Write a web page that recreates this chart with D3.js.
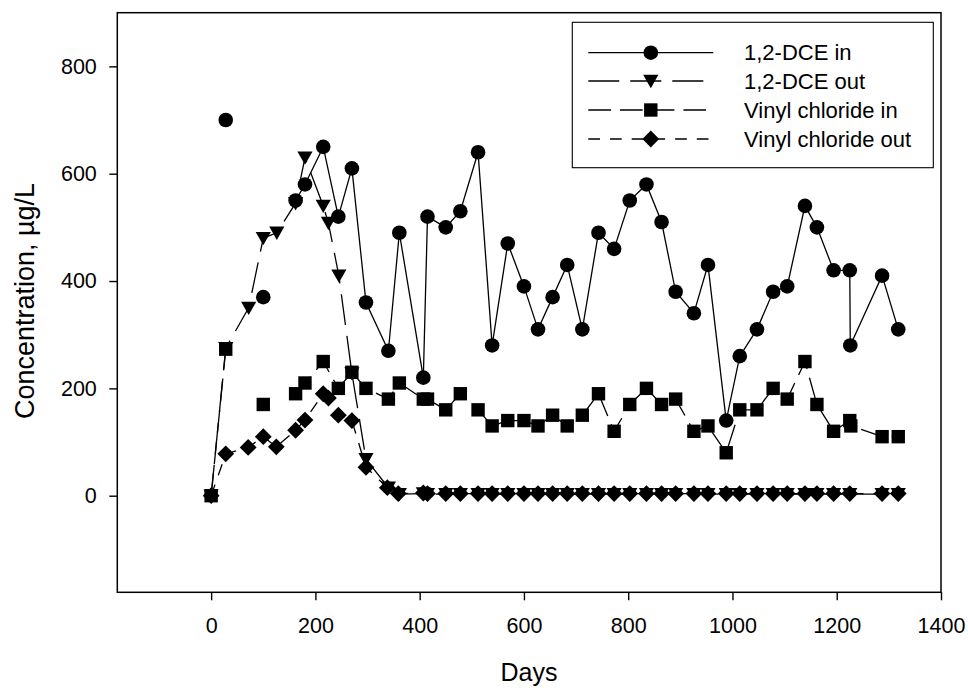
<!DOCTYPE html>
<html>
<head>
<meta charset="utf-8">
<script src="https://cdn.jsdelivr.net/npm/d3@7"></script>
<style>
  html, body { margin: 0; padding: 0; background: #fff; }
  svg { display: block; }
  text { font-family: "Liberation Sans", Arial, sans-serif; fill: #000; }
</style>
</head>
<body>
<svg id="chart" width="968" height="688"></svg>
<script>
// ---- Data ----
const seriesNames = ["1,2-DCE in", "1,2-DCE out", "Vinyl chloride in", "Vinyl chloride out"];

const dceInDays   = [28, 71, 100, 126, 162, 180, 215, 244, 270, 297, 340, 361, 407, 415, 450, 478, 512, 539, 569, 600, 627, 655, 683, 712, 743, 773, 803, 835, 864, 891, 926, 953, 988, 1014, 1047, 1078, 1105, 1139, 1162, 1194, 1225, 1226, 1287, 1318];
const dceInVals   = [700, null, 370, null, 550, 580, 650, 520, 610, 360, 270, 490, 220, 520, 500, 530, 640, 280, 470, 390, 310, 370, 430, 310, 490, 460, 550, 580, 510, 380, 340, 430, 140, 260, 310, 380, 390, 540, 500, 420, 420, 280, 410, 310];

const dceOutDays  = [0, 28, 72, 100, 126, 162, 180, 215, 225, 245, 270, 297, 340, 361, 407, 415, 450, 478, 512, 539, 569, 600, 627, 655, 683, 712, 743, 773, 803, 835, 864, 891, 926, 953, 988, 1014, 1047, 1078, 1105, 1139, 1162, 1194, 1225, 1287, 1318];
const dceOutVals  = [0, 275, 350, 480, 490, 545, 630, 540, 508, 410, 228, 68, 15, 3, 4, 3, 3, 3, 3, 3, 3, 3, 3, 3, 3, 3, 3, 3, 3, 3, 3, 3, 3, 3, 3, 3, 3, 3, 3, 3, 3, 3, 3, 3, 3];

const vcInDays    = [0, 28, 71, 100, 126, 162, 180, 215, 244, 270, 297, 340, 361, 407, 415, 450, 478, 512, 539, 569, 600, 627, 655, 683, 712, 743, 773, 803, 835, 864, 891, 926, 953, 988, 1014, 1047, 1078, 1105, 1139, 1162, 1194, 1225, 1227, 1287, 1318];
const vcInVals    = [0, 273, null, 170, null, 190, 210, 250, 200, 230, 200, 180, 210, 180, 180, 160, 190, 160, 130, 140, 140, 130, 150, 130, 150, 190, 120, 170, 200, 170, 180, 120, 130, 80, 160, 160, 200, 180, 250, 170, 120, 140, 130, 110, 110];

const vcOutDays   = [0, 28, 71, 100, 125, 162, 180, 215, 225, 244, 270, 297, 338, 359, 407, 415, 450, 478, 512, 539, 569, 600, 627, 655, 683, 712, 743, 773, 803, 835, 864, 891, 926, 953, 988, 1014, 1047, 1078, 1105, 1139, 1162, 1194, 1225, 1287, 1318];
const vcOutVals   = [0, 78, 90, 110, 91, 122, 141, 190, 182, 150, 140, 53, 15, 4, 5, 4, 4, 4, 4, 4, 4, 4, 4, 4, 4, 4, 4, 4, 4, 4, 4, 4, 4, 4, 4, 4, 4, 4, 4, 4, 4, 4, 4, 4, 4];

const xTicks = [0, 200, 400, 600, 800, 1000, 1200, 1400];
const yTicks = [0, 200, 400, 600, 800];
const xTitle = "Days";
const yTitle = "Concentration, \u00B5g/L";

// ---- Layout ----
const svg = d3.select("#chart");
const L = 117.3, R = 941, T = 12.7, B = 592.3;
const x = d3.scaleLinear().domain([-180, 1400]).range([L, R]);
const y = d3.scaleLinear().domain([-180, 900]).range([B, T]);

const styles = [
  { dash: null,        symbol: "circle" },
  { dash: "31,11",     symbol: "triangle" },
  { dash: "22.7,9",    symbol: "square" },
  { dash: "11.7,10",   symbol: "diamond" }
];

function symbolPath(kind) {
  switch (kind) {
    case "circle":   return d3.symbol().type(d3.symbolCircle).size(Math.PI * 7.3 * 7.3)();
    case "triangle": return "M-7.6,-6.2L7.6,-6.2L0,7.2Z";
    case "square":   return "M-6.7,-6.7L6.7,-6.7L6.7,6.7L-6.7,6.7Z";
    case "diamond":  return "M0,-8.4L8.4,0L0,8.4L-8.4,0Z";
  }
}

// Axes
const xAxis = d3.axisBottom(x).tickValues(xTicks).tickSize(8).tickPadding(17).tickFormat(d3.format("d"));
const yAxis = d3.axisLeft(y).tickValues(yTicks).tickSize(8).tickPadding(12.5).tickFormat(d3.format("d"));

const gx = svg.append("g").attr("transform", `translate(0,${B})`).call(xAxis);
const gy = svg.append("g").attr("transform", `translate(${L},0)`).call(yAxis);
[gx, gy].forEach(g => {
  g.select(".domain").remove();
  g.selectAll(".tick line").attr("stroke", "#000").attr("stroke-width", 1.4);
  g.selectAll(".tick text").attr("font-size", 21.5).attr("font-family", "Liberation Sans, Arial, sans-serif").attr("fill", "#000");
});

// Frame
svg.append("rect").attr("x", L).attr("y", T).attr("width", R - L).attr("height", B - T)
  .attr("fill", "none").attr("stroke", "#000").attr("stroke-width", 1.5);

// Series
const allSeries = [
  { days: dceInDays, vals: dceInVals },
  { days: dceOutDays, vals: dceOutVals },
  { days: vcInDays, vals: vcInVals },
  { days: vcOutDays, vals: vcOutVals }
];

const line = d3.line().defined(d => d[1] !== null).x(d => x(d[0])).y(d => y(d[1]));

allSeries.forEach((s, i) => {
  const pts = s.days.map((d, k) => [d, s.vals[k]]);
  const g = svg.append("g");
  g.append("path").attr("d", line(pts)).attr("fill", "none").attr("stroke", "#000")
    .attr("stroke-width", 1.3).attr("stroke-dasharray", styles[i].dash);
  g.selectAll("path.pt").data(pts.filter(p => p[1] !== null)).enter().append("path")
    .attr("class", "pt")
    .attr("transform", p => `translate(${x(p[0])},${y(p[1])})`)
    .attr("d", symbolPath(styles[i].symbol))
    .attr("fill", "#000");
});

// Legend
const lg = svg.append("g");
lg.append("rect").attr("x", 572.3).attr("y", 22.3).attr("width", 361).attr("height", 145.4)
  .attr("fill", "#fff").attr("stroke", "#000").attr("stroke-width", 1.1);
const rowY = [52.7, 81, 110, 139];
seriesNames.forEach((name, i) => {
  lg.append("line").attr("x1", 588.3).attr("x2", 713.3).attr("y1", rowY[i]).attr("y2", rowY[i])
    .attr("stroke", "#000").attr("stroke-width", 1.3).attr("stroke-dasharray", styles[i].dash);
  lg.append("path").attr("transform", `translate(650.8,${rowY[i]})`).attr("d", symbolPath(styles[i].symbol)).attr("fill", "#000");
  lg.append("text").attr("x", 744).attr("y", rowY[i] + 7.7).attr("font-size", 22).text(name);
});

// Axis titles
svg.append("text").attr("x", 529).attr("y", 680.7).attr("text-anchor", "middle").attr("font-size", 25).text(xTitle);
svg.append("text").attr("transform", "translate(33.5,301) rotate(-90)").attr("text-anchor", "middle").attr("font-size", 27).text(yTitle);
</script>
</body>
</html>
